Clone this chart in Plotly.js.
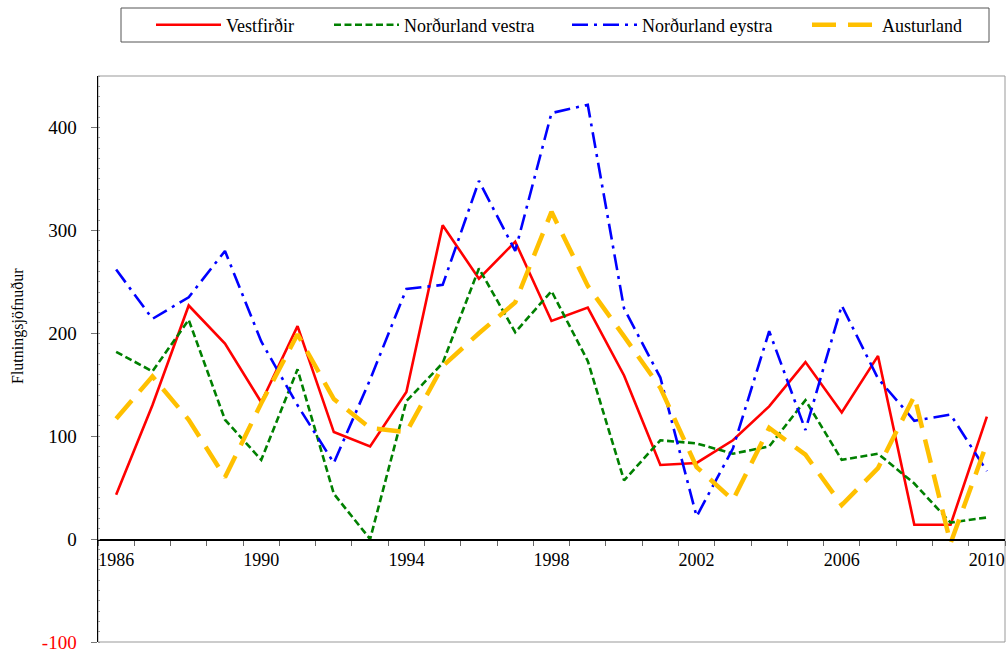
<!DOCTYPE html>
<html>
<head>
<meta charset="utf-8">
<script src="https://cdn.plot.ly/plotly-3.0.1.min.js"></script>
<style>
  html, body { margin: 0; padding: 0; background: #fff; }
  #chart { width: 1006px; height: 649px; }
</style>
</head>
<body>
<div id="chart"></div>
<script>
// ---- data ----
const years = [1986,1987,1988,1989,1990,1991,1992,1993,1994,1995,1996,1997,1998,1999,2000,2001,2002,2003,2004,2005,2006,2007,2008,2009,2010];

const vestfirdir       = [43, 130, 227, 190, 133, 207, 104, 90, 143, 305, 253, 289, 212, 225, 159, 72, 74, 96, 129, 172, 123, 178, 14, 14, 119];
const nordurlandVestra = [182, 163, 213, 116, 77, 165, 44, 0, 134, 171, 263, 201, 241, 173, 57, 96, 93, 83, 90, 135, 77, 83, 54, 16, 21];
const nordurlandEystra = [262, 214, 235, 280, 192, 130, 74, 155, 243, 247, 348, 280, 414, 422, 224, 157, 22, 88, 202, 106, 227, 156, 115, 121, 66];
const austurland       = [117, 158, 116, 60, 132, 199, 136, 108, 104, 168, 200, 230, 318, 246, 197, 147, 70, 38, 108, 82, 33, 69, 139, -4, 93];

const seriesNames = ["Vestfirðir", "Norðurland vestra", "Norðurland eystra", "Austurland"];
const xTickLabels = [1986, 1990, 1994, 1998, 2002, 2006, 2010];
const yTickVals = [-100, 0, 100, 200, 300, 400];
const yTickText = ['<span style="color:red">-100</span>', '0', '100', '200', '300', '400'];
const yTitle = "Flutningsjöfnuður";

// ---- layout helpers ----
const W = 1006, H = 649;
const M = { l: 98, r: 1, t: 76, b: 7 };
const PW = W - M.l - M.r, PH = H - M.t - M.b;
const px = x => (x - M.l) / PW;
const py = y => (H - M.b - y) / PH;

const FONT = "Liberation Serif";

// legend entry start positions (pixels) as in the reference
const legendStarts = [158, 336, 574, 814];
const legendIds = ["legend", "legend2", "legend3", "legend4"];

const traces = [
  { x: years, y: vestfirdir, name: seriesNames[0], mode: "lines", legend: legendIds[0],
    line: { color: "#ff0000", width: 2.6 } },
  { x: years, y: nordurlandVestra, name: seriesNames[1], mode: "lines", legend: legendIds[1],
    line: { color: "#008000", width: 2.6, dash: "7px,3.5px" } },
  { x: years, y: nordurlandEystra, name: seriesNames[2], mode: "lines", legend: legendIds[2],
    line: { color: "#0000ff", width: 2.6, dash: "16px,6px,3px,6px" } },
  { x: years, y: austurland, name: seriesNames[3], mode: "lines", legend: legendIds[3],
    line: { color: "#ffc000", width: 4.5, dash: "24px,12px" } }
];

function legendAt(startPx) {
  return {
    orientation: "h",
    xref: "container", yref: "container",
    x: (startPx - 7) / W, xanchor: "left",
    y: 1 - 25 / H, yanchor: "middle",
    font: { family: FONT, size: 18, color: "#000" },
    itemwidth: 65,
    borderwidth: 0,
    bgcolor: "rgba(0,0,0,0)"
  };
}

const layout = {
  width: W, height: H,
  margin: M,
  paper_bgcolor: "#ffffff",
  plot_bgcolor: "#ffffff",
  font: { family: FONT, size: 18, color: "#000" },
  showlegend: true,
  xaxis: {
    type: "linear",
    range: [1985.5, 2010.5],
    tickmode: "array",
    tickvals: xTickLabels,
    ticktext: xTickLabels.map(String),
    ticks: "",
    showgrid: false,
    zeroline: false,
    anchor: "free",
    position: 100 / 550,
    side: "bottom",
    showline: true,
    linecolor: "#000",
    linewidth: 1.5,
    ticklabelstandoff: 4,
    tickfont: { family: FONT, size: 18, color: "#000" },
    minor: { tickmode: "linear", tick0: 1985.5, dtick: 1, ticks: "outside", ticklen: 5, tickcolor: "#666", tickwidth: 1 }
  },
  yaxis: {
    range: [-100, 450],
    tickmode: "array",
    tickvals: yTickVals,
    ticktext: yTickText,
    ticks: "outside",
    ticklen: 6,
    tickcolor: "#777",
    tickwidth: 1,
    showgrid: false,
    zeroline: false,
    showline: true,
    linecolor: "#000",
    linewidth: 1.5,
    ticklabelstandoff: 10,
    ticklabeloverflow: "allow",
    tickfont: { family: FONT, size: 19, color: "#000" },
    minor: { tickmode: "linear", tick0: 0, dtick: 10, ticks: "inside", ticklen: 2, tickcolor: "#999", tickwidth: 1 }
  },
  shapes: [
    { type: "rect", xref: "paper", yref: "paper", x0: 0, x1: 1, y0: 0, y1: 1,
      line: { color: "#999", width: 1 }, layer: "below" },
    { type: "rect", xref: "paper", yref: "paper",
      x0: px(121), x1: px(989), y0: py(42), y1: py(8),
      line: { color: "#555", width: 1 }, fillcolor: "rgba(0,0,0,0)" }
  ],
  annotations: [
    { text: yTitle, textangle: -90, showarrow: false,
      xref: "paper", yref: "paper", x: px(18), y: py(326),
      xanchor: "center", yanchor: "middle",
      font: { family: FONT, size: 16, color: "#000" } }
  ]
};
legendIds.forEach((id, i) => { layout[id] = legendAt(legendStarts[i]); });

Plotly.newPlot("chart", traces, layout, { displayModeBar: false, staticPlot: true });
</script>
</body>
</html>
